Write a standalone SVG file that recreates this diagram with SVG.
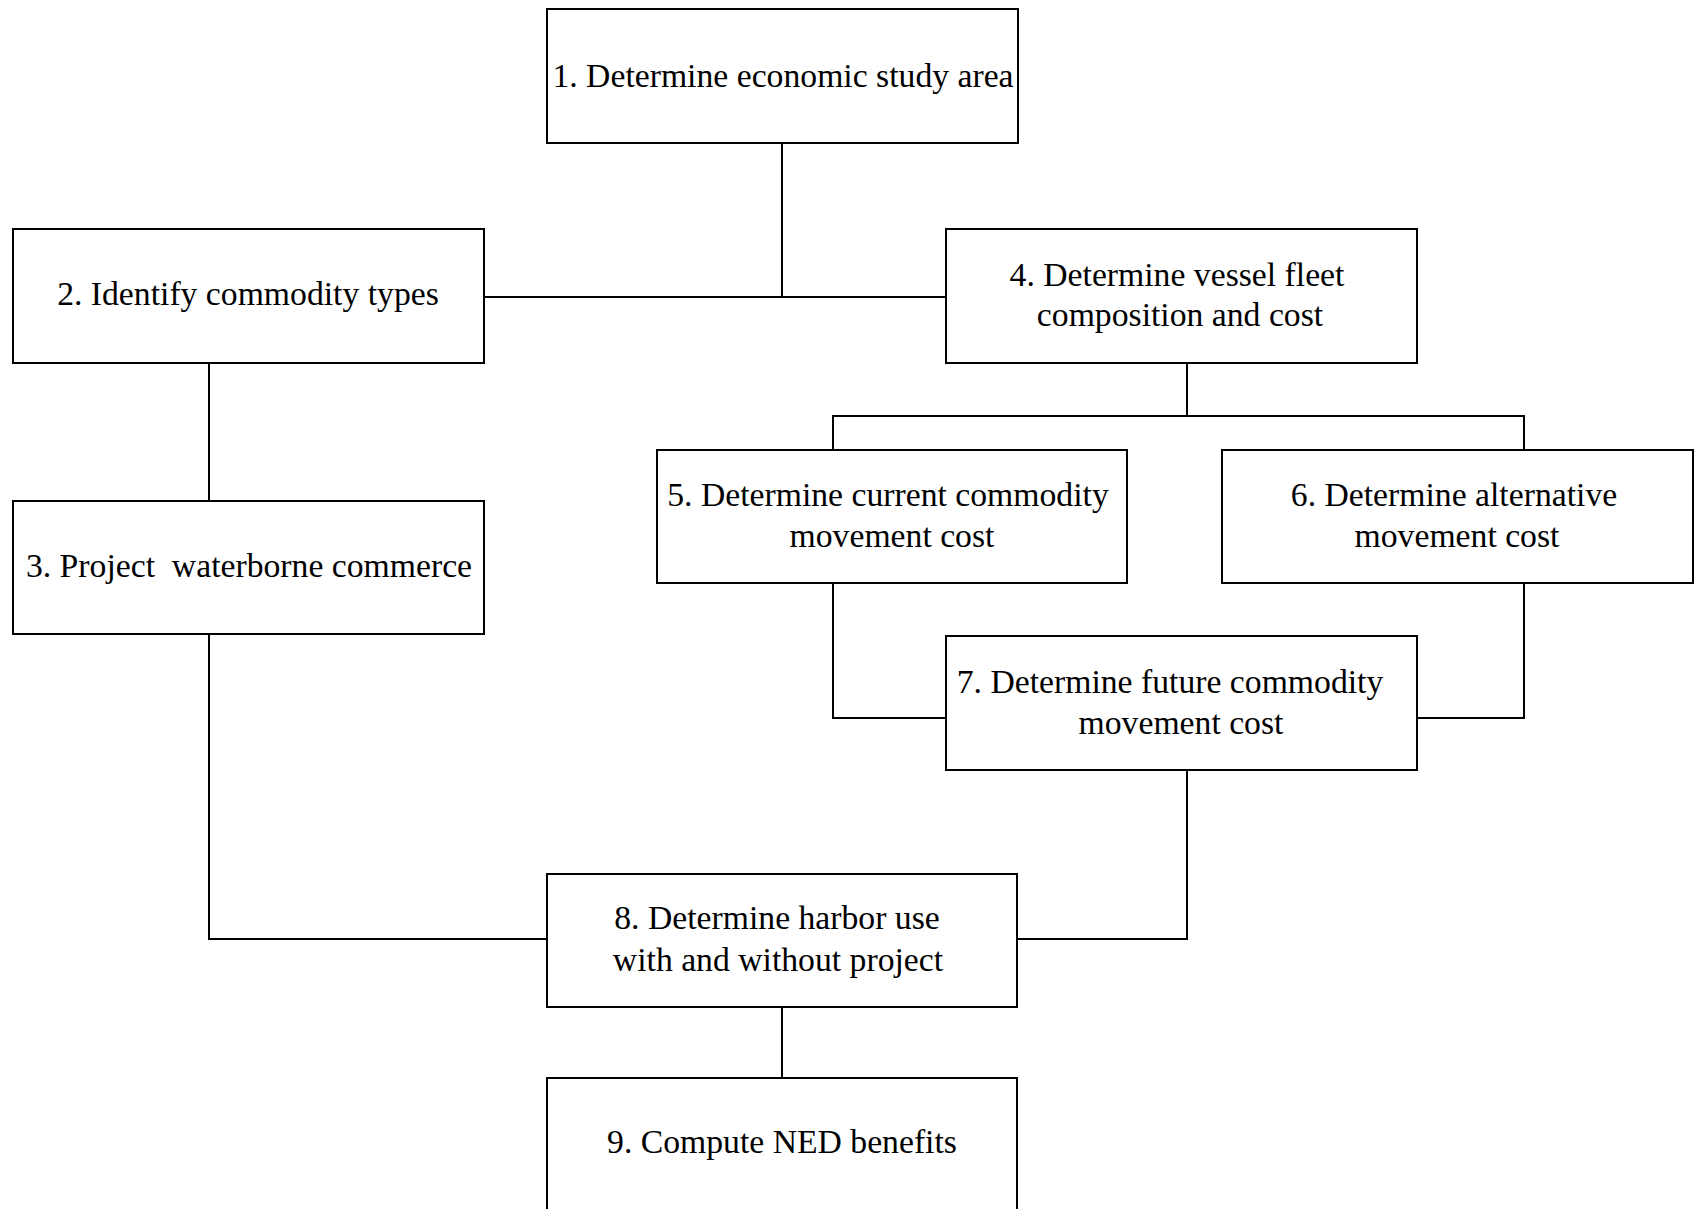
<svg xmlns="http://www.w3.org/2000/svg" width="1698" height="1209" viewBox="0 0 1698 1209">
<style>
.box{fill:#fff;stroke:#000;stroke-width:2}
.conn{fill:none;stroke:#000;stroke-width:2}
text{font-family:"Liberation Serif","Times New Roman",serif;font-size:33.7px;fill:#000;text-anchor:middle}
</style>
<rect width="1698" height="1209" fill="#fff"/>
<g id="connectors" class="conn">
<path d="M782,143 V297"/>
<path d="M484,297 H946"/>
<path d="M209,363 V501"/>
<path d="M209,634 V939 H547"/>
<path d="M1187,363 V416"/>
<path d="M833,450 V416 H1524 V450"/>
<path d="M833,583 V718 H946"/>
<path d="M1524,583 V718 H1417"/>
<path d="M1187,770 V939 H1017"/>
<path d="M782,1007 V1078"/>
</g>
<g id="node1"><rect class="box" x="547" y="9" width="471" height="134"/><text x="783" y="87">1. Determine economic study area</text></g>
<g id="node2"><rect class="box" x="13" y="229" width="471" height="134"/><text x="248" y="305">2. Identify commodity types</text></g>
<g id="node3"><rect class="box" x="13" y="501" width="471" height="133"/><text x="249" y="577" xml:space="preserve">3. Project  waterborne commerce</text></g>
<g id="node4"><rect class="box" x="946" y="229" width="471" height="134"/><text x="1177" y="286">4. Determine vessel fleet</text><text x="1180" y="326">composition and cost</text></g>
<g id="node5"><rect class="box" x="657" y="450" width="470" height="133"/><text x="888" y="506">5. Determine current commodity</text><text x="892" y="547">movement cost</text></g>
<g id="node6"><rect class="box" x="1222" y="450" width="471" height="133"/><text x="1454" y="506">6. Determine alternative</text><text x="1457" y="547">movement cost</text></g>
<g id="node7"><rect class="box" x="946" y="636" width="471" height="134"/><text x="1170" y="693">7. Determine future commodity</text><text x="1181" y="734">movement cost</text></g>
<g id="node8"><rect class="box" x="547" y="874" width="470" height="133"/><text x="777" y="929">8. Determine harbor use</text><text x="778" y="971">with and without project</text></g>
<g id="node9"><rect class="box" x="547" y="1078" width="470" height="134"/><text x="782" y="1153">9. Compute NED benefits</text></g>
</svg>
